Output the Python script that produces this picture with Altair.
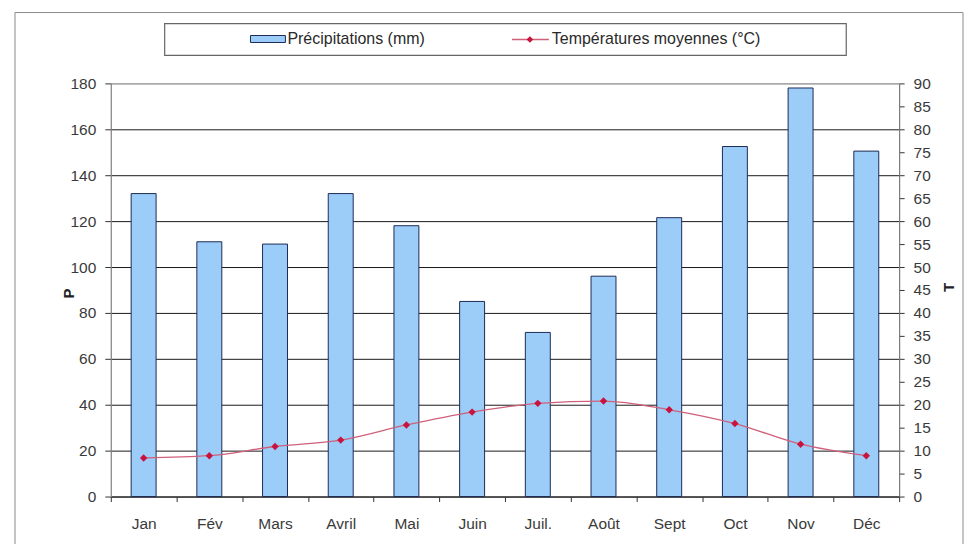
import altair as alt
import pandas as pd

# ---- data ----
mois = ["Jan", "Fév", "Mars", "Avril", "Mai", "Juin", "Juil.", "Août", "Sept", "Oct", "Nov", "Déc"]
precip = [132, 111, 110, 132, 118, 85, 71.5, 96, 121.5, 152.5, 178, 150.5]
temp = [8.4, 8.9, 10.9, 12.3, 15.6, 18.4, 20.3, 20.8, 18.9, 15.9, 11.4, 8.9]
p_ticks = list(range(0, 181, 20))
t_ticks = list(range(0, 91, 5))
leg_p = "Précipitations (mm)"
leg_t = "Températures moyennes (°C)"

df = pd.DataFrame({"mois": mois, "precip": precip, "temp": temp})
one = pd.DataFrame({"k": [0]})

FONT = "Liberation Sans"
BAR_FILL = "#9ccdf8"
BAR_STROKE = "#1d2b55"
LINE_C = "#d0607a"
PT_C = "#c8133f"
TXT = "#3a3a3a"
FS = 15.5
LFS = 16

x_axis = alt.Axis(
    title=None, labelAngle=0, tickBand="extent", grid=False,
    domainColor="#333", tickColor="#333", tickSize=5,
    labelFont=FONT, labelFontSize=FS, labelColor=TXT, labelPadding=15,
)
x_enc = alt.X("mois:N", sort=mois,
              scale=alt.Scale(paddingInner=0, paddingOuter=0), axis=x_axis)

p_axis = alt.Axis(
    title="P", values=p_ticks, grid=True,
    gridColor={"condition": {"test": "datum.value >= 180", "value": "#9a9a9a"}, "value": "#1a1a1a"},
    gridWidth=1, domainColor="#888", tickColor="#333", tickSize=6,
    labelFont=FONT, labelFontSize=FS, labelColor=TXT, labelPadding=9,
    titleFont=FONT, titleFontSize=15, titleFontWeight="bold", titleColor="#222",
    titleAngle=270, titleBaseline="middle", titleAlign="center",
    titleX=-42, titleY=210,
)
t_axis = alt.Axis(
    title="T", orient="right", values=t_ticks, grid=False,
    domainColor="#777", tickColor="#333", tickSize=5,
    labelFont=FONT, labelFontSize=FS, labelColor=TXT, labelPadding=9,
    titleFont=FONT, titleFontSize=15, titleFontWeight="bold", titleColor="#222",
    titleAngle=270, titleBaseline="middle", titleAlign="center",
    titleX=49, titleY=204,
)
t_y = alt.Y("temp:Q", scale=alt.Scale(domain=[0, 90], nice=False), axis=t_axis)

bars = alt.Chart(df).mark_bar(
    size=25, fill=BAR_FILL, stroke=BAR_STROKE, strokeWidth=1
).encode(
    x=x_enc,
    y=alt.Y("precip:Q", scale=alt.Scale(domain=[0, 180], nice=False), axis=p_axis),
)

line = alt.Chart(df).mark_line(
    interpolate="monotone", color=LINE_C, strokeWidth=1.3
).encode(x=x_enc, y=t_y)

pts = alt.Chart(df).mark_point(
    shape="diamond", filled=True, color=PT_C, size=55, opacity=1
).encode(x=x_enc, y=t_y)

temp_layer = alt.layer(line, pts)

# ---- decorations: outer frame and legend box ----
base = alt.Chart(one)
frame = base.mark_rect(fillOpacity=0, stroke="#8a8a8a", strokeWidth=1).encode(
    x=alt.value(-96), x2=alt.value(854), y=alt.value(-71), y2=alt.value(470))
leg_box = base.mark_rect(fill="white", stroke="#666", strokeWidth=1.2).encode(
    x=alt.value(54), x2=alt.value(737), y=alt.value(-60), y2=alt.value(-28))
leg_bar = base.mark_rect(fill=BAR_FILL, stroke=BAR_STROKE, strokeWidth=1).encode(
    x=alt.value(140), x2=alt.value(175), y=alt.value(-48), y2=alt.value(-41))
leg_txt1 = base.mark_text(align="left", baseline="middle", font=FONT, fontSize=LFS, color="#2a2a2a").encode(
    x=alt.value(177), y=alt.value(-44), text=alt.value(leg_p))
leg_line = base.mark_rule(color=LINE_C, strokeWidth=1.3).encode(
    x=alt.value(402), x2=alt.value(439), y=alt.value(-44))
leg_pt = base.mark_point(shape="diamond", filled=True, color=PT_C, size=45, opacity=1).encode(
    x=alt.value(420), y=alt.value(-44))
leg_txt2 = base.mark_text(align="left", baseline="middle", font=FONT, fontSize=LFS, color="#2a2a2a").encode(
    x=alt.value(442), y=alt.value(-44), text=alt.value(leg_t))

decor = alt.layer(frame, leg_box, leg_bar, leg_txt1, leg_line, leg_pt, leg_txt2)

chart = alt.layer(decor, bars, temp_layer).resolve_scale(
    y="independent"
).properties(
    width=790, height=414,
    autosize=alt.AutoSizeParams(type="none"),
    padding={"left": 103, "top": 75, "right": 65, "bottom": 47},
    background="white",
).configure_view(stroke="#9a9a9a")

chart.save("out.html", embed_options={"renderer": "svg", "actions": False})
